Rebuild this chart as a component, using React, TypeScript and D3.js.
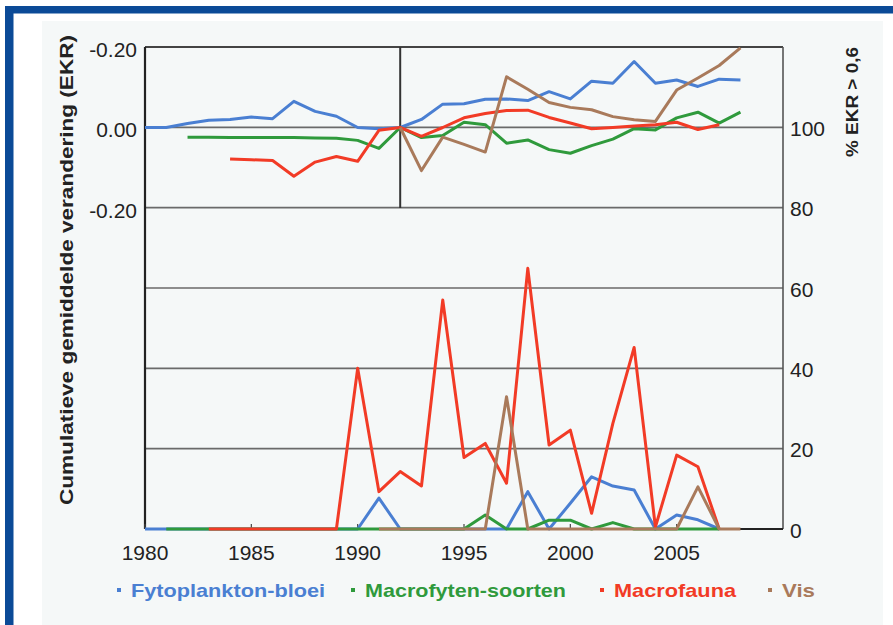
import React from "react";
import * as d3 from "d3";

// ---- data ----
const topBlueStart = 1980;
const topBlue = [0, 0, 0.01, 0.018, 0.02, 0.026, 0.022, 0.065, 0.04, 0.028, 0.0, -0.003, 0, 0.02, 0.058, 0.059, 0.07, 0.071, 0.067, 0.089, 0.071, 0.115, 0.11, 0.164, 0.11, 0.118, 0.102, 0.12, 0.118];
const topGreenStart = 1982;
const topGreen = [-0.024, -0.024, -0.025, -0.025, -0.025, -0.025, -0.026, -0.027, -0.032, -0.052, 0, -0.025, -0.02, 0.013, 0.007, -0.039, -0.031, -0.055, -0.064, -0.045, -0.029, -0.003, -0.006, 0.024, 0.038, 0.011, 0.038];
const topRedStart = 1984;
const topRed = [-0.078, -0.08, -0.082, -0.121, -0.086, -0.072, -0.084, -0.007, 0, -0.022, 0.0, 0.024, 0.035, 0.042, 0.043, 0.025, 0.011, -0.003, 0.0, 0.004, 0.007, 0.013, -0.005, 0.007];
const topBrownStart = 1992;
const topBrown = [0, -0.107, -0.024, -0.042, -0.061, 0.126, 0.095, 0.062, 0.05, 0.044, 0.027, 0.019, 0.015, 0.093, 0.123, 0.154, 0.198];

const botBlueStart = 1980;
const botBlue = [0, 0, 0, 0, 0, 0, 0, 0, 0, 0, 0, 7.7, 0, 0, 0, 0, 0, 0, 9.3, 0, 6.4, 13.0, 10.7, 9.7, 0, 3.5, 2.3, 0];
const botGreenStart = 1981;
const botGreen = [0, 0, 0, 0, 0, 0, 0, 0, 0, 0, 0, 0, 0, 0, 0, 3.5, 0, 0, 2.2, 2.2, 0, 1.6, 0, 0, 0, 0, 0];
const botRedStart = 1983;
const botRed = [0, 0, 0, 0, 0, 0, 0, 40, 9.3, 14.3, 10.7, 57, 17.8, 21.3, 11.4, 64.9, 20.9, 24.6, 3.9, 26.3, 45.2, 0.5, 18.4, 15.5, 0];
const botBrownStart = 1991;
const botBrown = [0, 0, 0, 0, 0, 0, 32.9, 0, 0, 0, 0, 0, 0, 0, 0, 10.5, 0, 0];

const xTicks = [1980, 1985, 1990, 1995, 2000, 2005];
const leftTickValues = [0.2, 0, -0.2];
const leftTickLabels = ["-0.20", "0.00", "-0.20"];
const rightTicks = [0, 20, 40, 60, 80, 100];
const seriesNames = ["Fytoplankton-bloei", "Macrofyten-soorten", "Macrofauna", "Vis"];
const seriesColors = ["#4a7fd2", "#2f9a3c", "#f23b26", "#a97a5b"];

// ---- layout ----
const W = 893, H = 625;
const x = d3.scaleLinear().domain([1980, 2010]).range([145, 783]);
const yL = d3.scaleLinear().domain([-0.2, 0.2]).range([208, 47]);
const yR = d3.scaleLinear().domain([0, 120]).range([529, 47]);

const toPts = (start: number, vals: number[]) => vals.map((v, i) => [start + i, v] as [number, number]);
const lineTop = d3.line<[number, number]>().x(d => x(d[0])).y(d => yL(d[1]));
const lineBot = d3.line<[number, number]>().x(d => x(d[0])).y(d => yR(d[1]));

const topSeries = [toPts(topBlueStart, topBlue), toPts(topGreenStart, topGreen), toPts(topRedStart, topRed), toPts(topBrownStart, topBrown)];
const botSeries = [toPts(botBlueStart, botBlue), toPts(botGreenStart, botGreen), toPts(botRedStart, botRed), toPts(botBrownStart, botBrown)];

const legendTextX = [131, 365, 614, 782];
const legendTextW = [194, 201, 122, 33];

const FONT = "'Liberation Sans', Arial, sans-serif";

export default function App() {
  const [x0, x1] = x.range();
  return (
    <div style={{ position: "absolute", left: 0, top: 0 }}>
      <svg width={W} height={H} style={{ display: "block" }} fontFamily={FONT}>
        <rect x={0} y={0} width={W} height={H} fill="#ffffff" />
        <rect x={42} y={21} width={841} height={H - 21} fill="#f5f8f8" />
        {/* frame */}
        <rect x={5} y={6} width={W - 5} height={7.5} fill="#0b4a97" />
        <rect x={5} y={6} width={8.5} height={H - 6} fill="#0b4a97" />

        {/* grid */}
        {rightTicks.filter(t => t > 0).map(t => (
          <line key={t} x1={x0} x2={x1} y1={yR(t)} y2={yR(t)} stroke="#6a6a6a" strokeWidth={1.6} />
        ))}
        <line x1={x0} x2={x1} y1={yR(120)} y2={yR(120)} stroke="#444" strokeWidth={1.8} />
        <line x1={x(1992)} x2={x(1992)} y1={yL(0.2)} y2={yL(-0.2)} stroke="#333" strokeWidth={2} />

        {/* axes */}
        <line x1={x0} x2={x0} y1={yR(120)} y2={yR(0)} stroke="#222" strokeWidth={2.2} />
        <line x1={x1} x2={x1} y1={yR(120)} y2={yR(0)} stroke="#555" strokeWidth={1.6} />
        <line x1={x0} x2={x1} y1={yR(0)} y2={yR(0)} stroke="#222" strokeWidth={2} />
        {xTicks.map(t => (
          <line key={t} x1={x(t)} x2={x(t)} y1={yR(0)} y2={yR(0) - 5} stroke="#444" strokeWidth={1.2} />
        ))}

        {/* lines */}
        {topSeries.map((s, i) => (
          <path key={"t" + i} d={lineTop(s) || ""} fill="none" stroke={seriesColors[i]} strokeWidth={3} strokeLinejoin="round" />
        ))}
        {botSeries.map((s, i) => (
          <path key={"b" + i} d={lineBot(s) || ""} fill="none" stroke={seriesColors[i]} strokeWidth={3} strokeLinejoin="round" />
        ))}

        {/* tick labels */}
        {xTicks.map(t => (
          <text key={t} x={x(t)} y={552} textAnchor="middle" dominantBaseline="central" fontSize={21} fill="#222">{t}</text>
        ))}
        {leftTickValues.map((v, i) => (
          <text key={i} x={137} y={yL(v) + 2} textAnchor="end" dominantBaseline="central" fontSize={21} fill="#222">{leftTickLabels[i]}</text>
        ))}
        {rightTicks.map(t => (
          <text key={t} x={790} y={yR(t) + 1} textAnchor="start" dominantBaseline="central" fontSize={21} fill="#222">{t}</text>
        ))}

        {/* axis titles */}
        <text transform="translate(67,270) rotate(-90)" textAnchor="middle" dominantBaseline="central" fontSize={18} fontWeight="bold" fill="#222" textLength={470} lengthAdjust="spacingAndGlyphs">Cumulatieve gemiddelde verandering (EKR)</text>
        <text transform="translate(852,102) rotate(-90)" textAnchor="middle" dominantBaseline="central" fontSize={17} fontWeight="bold" fill="#222" textLength={110} lengthAdjust="spacingAndGlyphs">% EKR &gt; 0,6</text>

        {/* legend */}
        {seriesNames.map((n, i) => (
          <g key={n}>
            <rect x={legendTextX[i] - 14} y={588} width={4} height={4} fill={seriesColors[i]} />
            <text x={legendTextX[i]} y={590} dominantBaseline="central" fontSize={19} fontWeight="bold" fill={seriesColors[i]} textLength={legendTextW[i]} lengthAdjust="spacingAndGlyphs">{n}</text>
          </g>
        ))}
      </svg>
    </div>
  );
}
